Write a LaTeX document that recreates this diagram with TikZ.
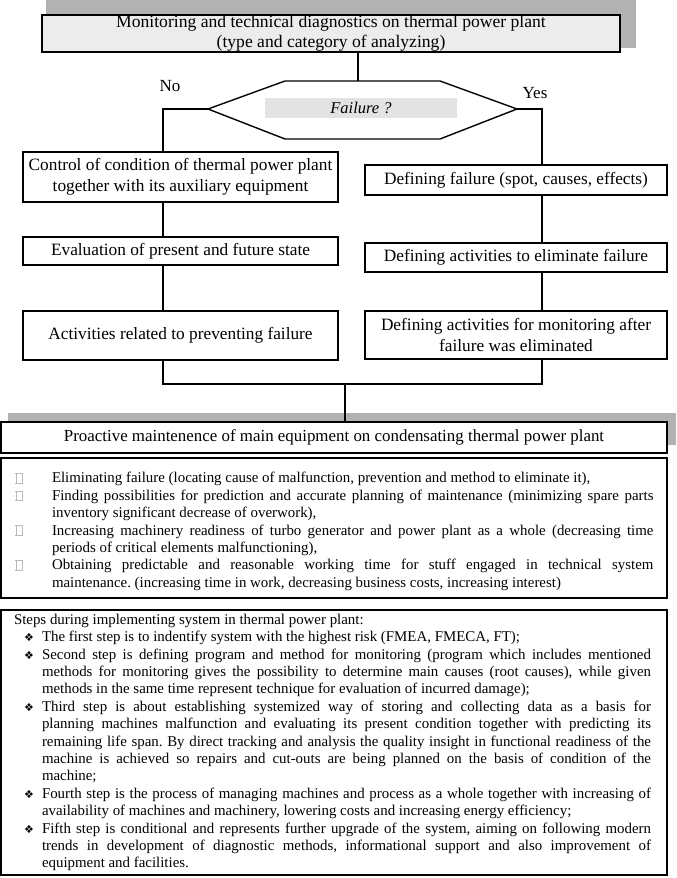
\documentclass[tikz,border=0pt]{standalone}
\usepackage{fontspec}
\setmainfont{Liberation Serif}
\newfontfamily\dingfont{DejaVu Sans}
\usetikzlibrary{calc}
\frenchspacing
\newcommand{\boxbul}{{\color{gray!55}\setlength{\fboxsep}{0pt}\setlength{\fboxrule}{0.7pt}\framebox[7pt]{\rule{0pt}{9pt}}}}
\newcommand{\gainitem}[1]{\par\noindent\hangindent=37.5pt\hangafter=1\makebox[37.5pt][l]{\hspace{1pt}\boxbul}#1}
\newcommand{\stepitem}[1]{\par\noindent\hangindent=25pt\hangafter=1\makebox[25pt][l]{\hspace{7pt}{\dingfont\fontsize{11}{11}\selectfont ❖}}#1}

\begin{document}
\begin{tikzpicture}[
            x=1pt, y=-1pt,
            line join=miter,
            flowbox/.style={draw, line width=1.3pt, align=center, inner sep=0pt,
                            font=\fontsize{17.3}{20.5}\selectfont},
            headbox/.style={flowbox, line width=2pt},
            listbox/.style={draw, line width=1.3pt, align=justify, inner ysep=0pt,
                            font=\fontsize{14.9}{17.4}\selectfont},
            link/.style={line width=1.2pt}
        ]
    \useasboundingbox (0,0) rectangle (677,878);

    % Shadows behind the two header boxes
    \fill[gray!60] (46,0) rectangle (636,48);
    \fill[gray!60] (8,413) rectangle (676,445);

    % Header
    \node[headbox, fill=gray!15, minimum width=578pt, minimum height=37pt,
          font=\fontsize{17.6}{20.5}\selectfont] (head) at (331,33.5)
        {Monitoring and technical diagnostics on thermal power plant\\(type and category of analyzing)};

    % Decision hexagon
    \coordinate (hexT) at (358,81);
    \coordinate (hexL) at (208,109);
    \coordinate (hexR) at (517,109);
    \draw[line width=1.4pt] (285,81) -- (440,81) -- (hexR) -- (440,139) -- (285,139) -- (hexL) -- cycle;
    \node[fill=gray!22, minimum width=192pt, minimum height=20pt, inner sep=0pt,
          font=\fontsize{16.5}{20}\selectfont\itshape] (fail) at (361,108) {Failure ?};
    \node[font=\fontsize{17}{20}\selectfont] (no) at (170,86) {No};
    \node[font=\fontsize{17}{20}\selectfont] (yes) at (535,93) {Yes};

    % Columns: no failure (left), failure (right)
    \coordinate (lx) at (163,0);
    \coordinate (rx) at (542,0);

    \node[flowbox, minimum width=315pt, minimum height=50pt] (ctrl) at (180.5,177)
        {Control of condition of thermal power plant\\together with its auxiliary equipment};
    \node[flowbox, minimum width=315pt, minimum height=28pt] (eval) at (180.5,251)
        {Evaluation of present and future state};
    \node[flowbox, minimum width=315pt, minimum height=49pt] (prev) at (180.5,335.5)
        {Activities related to preventing failure};

    \node[flowbox, minimum width=302pt, minimum height=30pt] (spot) at (516,180)
        {Defining failure (spot, causes, effects)};
    \node[flowbox, minimum width=302pt, minimum height=29pt] (elim) at (516,257.5)
        {Defining activities to eliminate failure};
    \node[flowbox, minimum width=302pt, minimum height=48pt] (mon) at (516,335)
        {Defining activities for monitoring after\\failure was eliminated};

    % Connectors
    \draw[link] (head.south -| hexT) -- (hexT);
    \draw[link] (hexL) -| (ctrl.north -| lx);
    \draw[link] (hexR) -| (spot.north -| rx);
    \draw[link] (ctrl.south -| lx) -- (eval.north -| lx);
    \draw[link] (eval.south -| lx) -- (prev.north -| lx);
    \draw[link] (spot.south -| rx) -- (elim.north -| rx);
    \draw[link] (elim.south -| rx) -- (mon.north -| rx);

    \coordinate (join) at (345,384);
    \draw[link] (prev.south -| lx) |- (join) -| (mon.south -| rx);
    \draw[link] (join) -- (345,422);

    % Proactive maintenance
    \node[headbox, fill=white, minimum width=666pt, minimum height=31pt,
          font=\fontsize{16.9}{20}\selectfont] (proact) at (334,437.5)
        {Proactive maintenence of main equipment on condensating thermal power plant};

    % Gains
    \node[listbox, text width=639pt, inner xsep=13.5pt, minimum height=140pt] (gains) at (334,528) {%
        \gainitem{Eliminating failure (locating cause of malfunction, prevention and method to eliminate it),}
        \gainitem{Finding possibilities for prediction and accurate planning of maintenance (minimizing spare parts\linebreak
            inventory significant decrease of overwork),}
        \gainitem{Increasing machinery readiness of turbo generator and power plant as a whole (decreasing time\linebreak
            periods of critical elements malfunctioning),}
        \gainitem{Obtaining predictable and reasonable working time for stuff engaged in technical system\linebreak
            maintenance. (increasing time in work, decreasing business costs, increasing interest)}\par};

    % Implementation steps
    \node[listbox, text width=634pt, inner xsep=16pt, minimum height=265pt] (steps) at (334,742.5) {%
        \noindent\hspace{-3pt}Steps during implementing system in thermal power plant:
        \stepitem{The first step is to indentify system with the highest risk (FMEA, FMECA, FT);}
        \stepitem{Second step is defining program and method for monitoring (program which includes mentioned\linebreak
            methods for monitoring gives the possibility to determine main causes (root causes), while given\linebreak
            methods in the same time represent technique for evaluation of incurred damage);}
        \stepitem{Third step is about establishing systemized way of storing and collecting data as a basis for\linebreak
            planning machines malfunction and evaluating its present condition together with predicting its\linebreak
            remaining life span. By direct tracking and analysis the quality insight in functional readiness of the\linebreak
            machine is achieved so repairs and cut-outs are being planned on the basis of condition of the\linebreak
            machine;}
        \stepitem{Fourth step is the process of managing machines and process as a whole together with increasing of\linebreak
            availability of machines and machinery, lowering costs and increasing energy efficiency;}
        \stepitem{Fifth step is conditional and represents further upgrade of the system, aiming on following modern\linebreak
            trends in development of diagnostic methods, informational support and also improvement of\linebreak
            equipment and facilities.}\par};

\end{tikzpicture}
\end{document}
